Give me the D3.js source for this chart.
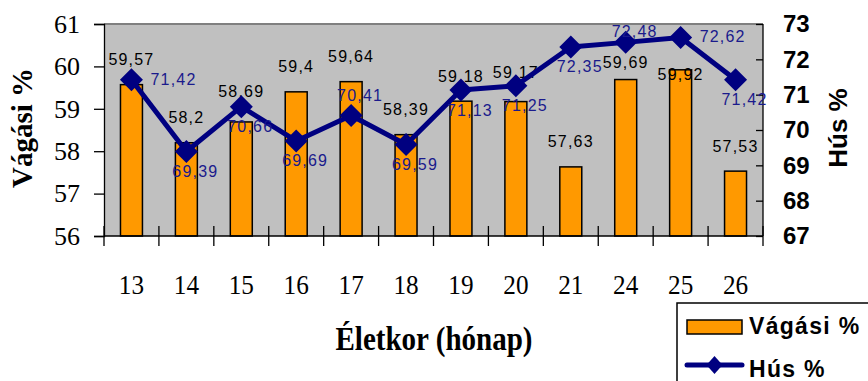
<!DOCTYPE html>
<html>
<head>
<meta charset="utf-8">
<script src="https://cdn.jsdelivr.net/npm/d3@7/dist/d3.min.js"></script>
<style>
  html, body { margin: 0; padding: 0; background: #fff; }
  svg { display: block; }
</style>
</head>
<body>
<svg id="chart" width="868" height="381"></svg>
<script>
// Age in months (categories)
const ages = ["13", "14", "15", "16", "17", "18", "19", "20", "21", "24", "25", "26"];
// Dressing percentage (bars, left axis)
const vagasi = [59.57, 58.2, 58.69, 59.4, 59.64, 58.39, 59.18, 59.17, 57.63, 59.69, 59.92, 57.53];
// Meat percentage (line, right axis)
const hus = [71.42, 69.39, 70.66, 69.69, 70.41, 69.59, 71.13, 71.25, 72.35, 72.48, 72.62, 71.42];
// Axis ticks
const leftTicks = [56, 57, 58, 59, 60, 61];
const rightTicks = [67, 68, 69, 70, 71, 72, 73];

const svg = d3.select("#chart");
const plot = { left: 104, right: 763, top: 24, bottom: 236 };

const x = d3.scaleBand().domain(ages).range([plot.left, plot.right]).padding(0);
const yL = d3.scaleLinear().domain([56, 61]).range([plot.bottom, plot.top]);
const yR = d3.scaleLinear().domain([67, 73]).range([plot.bottom, plot.top]);
const comma = v => String(v).replace(".", ",");
const cx = i => x(ages[i]) + x.bandwidth() / 2;

// plot area
svg.append("rect")
  .attr("x", plot.left).attr("y", plot.top)
  .attr("width", plot.right - plot.left).attr("height", plot.bottom - plot.top)
  .attr("fill", "#c0c0c0");
svg.append("line")
  .attr("x1", plot.left).attr("x2", plot.right)
  .attr("y1", plot.top).attr("y2", plot.top)
  .attr("stroke", "#808080").attr("stroke-width", 2);

// bars
const bw = x.bandwidth() * 0.4;
svg.append("g").selectAll("rect").data(vagasi).join("rect")
  .attr("x", (d, i) => cx(i) - bw / 2)
  .attr("y", d => yL(d))
  .attr("width", bw)
  .attr("height", d => yL(56) - yL(d))
  .attr("fill", "#ff9900")
  .attr("stroke", "#000").attr("stroke-width", 1.5);

// left axis
const gL = svg.append("g").attr("transform", `translate(${plot.left},0)`)
  .call(d3.axisLeft(yL).tickValues(leftTicks).tickSize(10).tickPadding(14).tickFormat(d3.format("d")));
gL.selectAll("path, line").attr("stroke", "#000").attr("stroke-width", 1.3);
gL.selectAll("text").attr("font-family", "'Liberation Serif', 'Times New Roman', serif")
  .attr("font-size", 26).attr("fill", "#000");

// right axis (ticks point inwards)
const gR = svg.append("g").attr("transform", `translate(${plot.right},0)`)
  .call(d3.axisRight(yR).tickValues(rightTicks).tickSize(-7).tickPadding(20).tickFormat(d3.format("d")));
gR.selectAll("path, line").attr("stroke", "#000").attr("stroke-width", 1.3);
gR.select("path").attr("d", `M0,${plot.top}V${plot.bottom}`);
gR.selectAll("text").attr("font-family", "'Liberation Sans', Arial, sans-serif")
  .attr("font-weight", "bold").attr("font-size", 24).attr("fill", "#000");

// bottom axis: ticks on category boundaries, labels centred in each band
svg.append("line")
  .attr("x1", plot.left).attr("x2", plot.right)
  .attr("y1", plot.bottom).attr("y2", plot.bottom)
  .attr("stroke", "#000").attr("stroke-width", 1.3);
const bounds = ages.map(a => x(a)).concat([plot.right]);
svg.append("g").selectAll("line").data(bounds).join("line")
  .attr("x1", d => d).attr("x2", d => d)
  .attr("y1", plot.bottom - 10).attr("y2", plot.bottom + 10)
  .attr("stroke", "#000").attr("stroke-width", 1.3);
const gB = svg.append("g").attr("transform", `translate(0,${plot.bottom})`)
  .call(d3.axisBottom(x).tickSize(0).tickPadding(38));
gB.select(".domain").remove();
gB.selectAll("text")
  .attr("font-family", "'Liberation Serif', 'Times New Roman', serif")
  .attr("font-size", 28).attr("fill", "#000")
  .attr("transform", "scale(0.9,1)");

// bar value labels
const barLabelDy = { "15": -5, "20": -4, "24": 8, "25": 30 };
svg.append("g").selectAll("text").data(vagasi).join("text")
  .attr("x", (d, i) => cx(i))
  .attr("y", (d, i) => yL(d) - 19.5 + (barLabelDy[ages[i]] || 0))
  .attr("text-anchor", "middle")
  .attr("font-family", "'Liberation Sans', Arial, sans-serif")
  .attr("font-size", 16).attr("letter-spacing", 1.2)
  .attr("fill", "#000")
  .text(d => comma(d));

// meat line with diamond markers
const line = d3.line().x((d, i) => cx(i)).y(d => yR(d));
svg.append("path").datum(hus)
  .attr("d", line)
  .attr("fill", "none").attr("stroke", "#000080").attr("stroke-width", 5)
  .attr("stroke-linejoin", "round");
const diamond = r => `M0,${-r}L${r},0L0,${r}L${-r},0Z`;
svg.append("g").selectAll("path").data(hus).join("path")
  .attr("transform", (d, i) => `translate(${cx(i)},${yR(d)})`)
  .attr("d", diamond(11.5))
  .attr("fill", "#000080");

// meat value labels
const husPos = ["right", "below", "below", "below", "above", "below", "below", "below", "below", "above", "right", "below"];
svg.append("g").selectAll("text").data(hus).join("text")
  .attr("x", (d, i) => husPos[i] === "right" ? cx(i) + 19 : cx(i) + 9)
  .attr("y", (d, i) => {
    const y = yR(d);
    if (husPos[i] === "right") return y + 5;
    if (husPos[i] === "above") return Math.max(y - 14.5, plot.top + 13);
    return y + 25.5;
  })
  .attr("text-anchor", (d, i) => husPos[i] === "right" ? "start" : "middle")
  .attr("font-family", "'Liberation Sans', Arial, sans-serif")
  .attr("font-size", 16).attr("letter-spacing", 1.2)
  .attr("fill", "#1a1a8c")
  .text(d => comma(d));

// axis titles
svg.append("text")
  .attr("transform", "translate(32,128) rotate(-90)")
  .attr("text-anchor", "middle")
  .attr("font-family", "'Liberation Serif', 'Times New Roman', serif")
  .attr("font-weight", "bold").attr("font-size", 29).attr("fill", "#000")
  .text("Vágási %");
svg.append("text")
  .attr("transform", "translate(847,128) rotate(-90)")
  .attr("text-anchor", "middle")
  .attr("font-family", "'Liberation Sans', Arial, sans-serif")
  .attr("font-weight", "bold").attr("font-size", 26).attr("fill", "#000")
  .text("Hús %");
svg.append("text")
  .attr("transform", "translate(434,350) scale(0.88,1)")
  .attr("text-anchor", "middle")
  .attr("font-family", "'Liberation Serif', 'Times New Roman', serif")
  .attr("font-weight", "bold").attr("font-size", 33).attr("fill", "#000")
  .text("Életkor (hónap)");

// legend
const lg = svg.append("g");
lg.append("rect")
  .attr("x", 677).attr("y", 303).attr("width", 220).attr("height", 100)
  .attr("fill", "#fff").attr("stroke", "#000").attr("stroke-width", 1.5);
lg.append("rect")
  .attr("x", 687).attr("y", 320).attr("width", 55).attr("height", 14)
  .attr("fill", "#ff9900").attr("stroke", "#000").attr("stroke-width", 1.5);
lg.append("text")
  .attr("x", 749).attr("y", 334)
  .attr("font-family", "'Liberation Sans', Arial, sans-serif")
  .attr("font-weight", "bold").attr("font-size", 23).attr("letter-spacing", 1.3)
  .attr("fill", "#000").text("Vágási %");
lg.append("line")
  .attr("x1", 687).attr("x2", 742).attr("y1", 365).attr("y2", 365)
  .attr("stroke", "#000080").attr("stroke-width", 5).attr("stroke-linecap", "round");
lg.append("path")
  .attr("transform", "translate(714.5,365)")
  .attr("d", "M0,-9L8,0L0,9L-8,0Z")
  .attr("fill", "#000080");
lg.append("text")
  .attr("x", 749).attr("y", 377)
  .attr("font-family", "'Liberation Sans', Arial, sans-serif")
  .attr("font-weight", "bold").attr("font-size", 23).attr("letter-spacing", 1.3)
  .attr("fill", "#000").text("Hús %");
</script>
</body>
</html>
